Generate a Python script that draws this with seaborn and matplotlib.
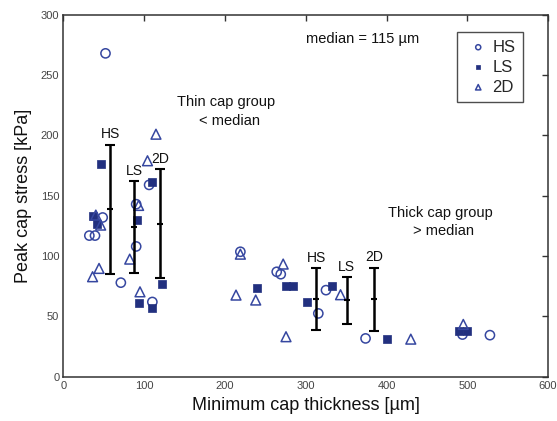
import matplotlib
matplotlib.use("Agg")
import matplotlib.pyplot as plt
import seaborn as sns
import pandas as pd
import numpy as np

# ---- data ----
hs_x = [52, 48.5, 32, 39, 71, 90, 90, 106, 110, 219, 264, 269, 315.5, 325, 374, 494, 528]
hs_y = [268, 132, 117, 117, 78, 143, 108, 159, 62, 103.6, 87, 85, 52.5, 71.8, 31.8, 35, 34.5]
ls_x = [46, 36, 41, 91, 109, 93.5, 110, 122.4, 240, 276, 284, 302, 332, 400, 490, 500]
ls_y = [176, 133, 126.5, 130, 161, 61, 57, 76.6, 73.8, 75.2, 75.4, 61.7, 75.4, 31, 38, 38]
d2_x = [114.5, 104, 93, 40, 46, 44, 36, 82, 94.7, 219, 213.6, 238, 272, 275.5, 343, 430, 495]
d2_y = [201, 179, 142, 134, 125.7, 89.8, 82.9, 97.5, 70.4, 101.6, 67.7, 63.6, 93.4, 33.2, 68, 31.2, 43.4]

# group summaries (mean +/- sd) shown as error bars
bar_labels = ["HS", "LS", "2D", "HS", "LS", "2D"]
bar_x = [57.6, 87.3, 120, 312.7, 350.7, 385]
bar_mean = [138.7, 124, 127, 64.4, 63.3, 64.1]
bar_sd = [53.5, 38, 45, 25.6, 19.2, 26]

methods = ["HS", "LS", "2D"]

df = pd.concat([
    pd.DataFrame({"x": hs_x, "y": hs_y, "method": "HS"}),
    pd.DataFrame({"x": ls_x, "y": ls_y, "method": "LS"}),
    pd.DataFrame({"x": d2_x, "y": d2_y, "method": "2D"}),
], ignore_index=True)

sns.set_style("white")
plt.rcParams["font.family"] = ["Liberation Sans", "DejaVu Sans"]

fig = plt.figure(figsize=(5.57, 4.21), dpi=100)
ax = fig.add_axes([0.114, 0.105, 0.87, 0.86])

blue = "#3647a0"
navy = "#22307f"
styles = {
    "HS": dict(marker="o", s=44, facecolor="none", edgecolor=blue, linewidth=1.1),
    "LS": dict(marker="s", s=34, facecolor=navy, edgecolor=navy, linewidth=0.5),
    "2D": dict(marker="^", s=50, facecolor="none", edgecolor=blue, linewidth=1.1),
}
for m in methods:
    sub = df[df["method"] == m]
    sns.scatterplot(data=sub, x="x", y="y", ax=ax, label=m, zorder=3, **styles[m])

ax.errorbar(bar_x, bar_mean, yerr=bar_sd, fmt="_", color="black", ecolor="black",
            elinewidth=1.8, capsize=3.8, capthick=1.8, markersize=4, markeredgewidth=1.5, zorder=4)
for lab, bx, bm, bs in zip(bar_labels, bar_x, bar_mean, bar_sd):
    ax.text(bx, bm + bs + 3, lab, ha="center", va="bottom", fontsize=10, color="#111111")

ax.text(201, 228, "Thin cap group", ha="center", va="center", fontsize=10.5, color="#111111")
ax.text(206, 212, "< median", ha="center", va="center", fontsize=10.5, color="#111111")
ax.text(467, 136, "Thick cap group", ha="center", va="center", fontsize=10.5, color="#111111")
ax.text(470, 121, "> median", ha="center", va="center", fontsize=10.5, color="#111111")
ax.text(300, 280, "median = 115 µm", ha="left", va="center", fontsize=10.5, color="#111111")

ax.set_xlim(0, 600)
ax.set_ylim(0, 300)
ax.set_xticks(range(0, 601, 100))
ax.set_yticks(range(0, 301, 50))
ax.set_xlabel("Minimum cap thickness [µm]", fontsize=13, color="#111111", labelpad=4)
ax.set_ylabel("Peak cap stress [kPa]", fontsize=13, color="#111111", labelpad=6)
ax.tick_params(direction="in", length=4, width=1, top=True, right=True,
               labelsize=8, labelcolor="#444444", colors="#333333", pad=3)
for sp in ax.spines.values():
    sp.set_visible(True)
    sp.set_color("#333333")
    sp.set_linewidth(1.1)

leg = ax.legend(loc="upper right", bbox_to_anchor=(0.948, 0.952), borderaxespad=0,
                fontsize=12, frameon=True, fancybox=False, edgecolor="#222222",
                handletextpad=0.05, handlelength=1.6, borderpad=0.45, labelspacing=0.3,
                markerscale=0.55)
leg.get_frame().set_linewidth(1.0)

fig.savefig("out.png", dpi=100)
